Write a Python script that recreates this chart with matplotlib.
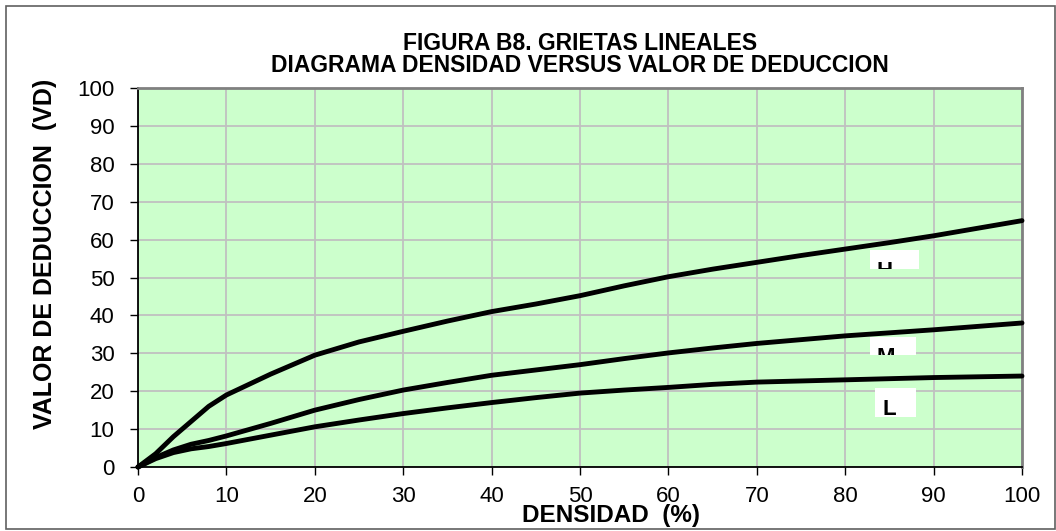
import matplotlib
matplotlib.use("Agg")
import matplotlib.pyplot as plt
from matplotlib.patches import Rectangle

plt.rcParams['font.family'] = ['Liberation Sans', 'DejaVu Sans']

density = [0, 2, 4, 6, 8, 10, 15, 20, 25, 30, 35, 40, 45, 50, 55, 60, 65, 70, 75, 80, 85, 90, 95, 100]
vd_high = [0, 3.5, 8, 12, 16, 19, 24.5, 29.5, 33, 35.8, 38.5, 41, 43, 45.2, 47.8, 50.2, 52.2, 54, 55.8, 57.5, 59.2, 61, 63, 65]
vd_medium = [0, 2.5, 4.5, 6, 7, 8.2, 11.5, 15, 17.8, 20.3, 22.3, 24.2, 25.6, 27, 28.6, 30.1, 31.4, 32.6, 33.6, 34.6, 35.4, 36.2, 37.1, 38]
vd_low = [0, 2.2, 3.8, 4.8, 5.4, 6.2, 8.4, 10.6, 12.4, 14.1, 15.6, 17, 18.3, 19.5, 20.3, 21, 21.8, 22.4, 22.7, 23, 23.3, 23.6, 23.8, 24]

labels = ['H', 'M', 'L']
# label boxes: (x0, y0, width, height) in data units, text baseline position
label_boxes = [(82.8, 52.2, 5.6, 5.1), (82.8, 29.6, 5.2, 4.8), (83.4, 13.2, 4.6, 7.6)]
label_text_pos = [(83.5, 50.1), (83.5, 27.4), (84.2, 13.8)]

W, H = 1056, 531
fig = plt.figure(figsize=(W / 100, H / 100), dpi=100)
fig.patches.append(Rectangle((6 / W, 1 - 529 / H), 1049 / W, 523 / H, transform=fig.transFigure,
                             fill=False, edgecolor='#606060', linewidth=1.2))
ax = fig.add_axes([138 / W, 1 - 467 / H, (1022 - 138) / W, (467 - 88) / H])
ax.set_facecolor('#CCFFCC')

for y in (vd_high, vd_medium, vd_low):
    ax.plot(density, y, color='black', linewidth=3.5, solid_capstyle='round',
            solid_joinstyle='round', zorder=3, clip_on=False)

for lab, (x0, y0, w, h), (tx, ty) in zip(labels, label_boxes, label_text_pos):
    r = Rectangle((x0, y0), w, h, facecolor='white', edgecolor='none', zorder=4)
    ax.add_patch(r)
    t = ax.text(tx, ty, lab, fontsize=16, fontweight='bold', ha='left', va='baseline',
                zorder=5, clip_on=True)
    t.set_clip_path(r)

ax.set_xlim(0, 100)
ax.set_ylim(0, 100)
ax.set_xticks(range(0, 101, 10))
ax.set_yticks(range(0, 101, 10))
ax.grid(True, color='#c0c0c0', linewidth=1.3)
ax.set_axisbelow(True)
ax.tick_params(axis='both', direction='out', length=6, width=1, labelsize=16, color='black')
ax.tick_params(axis='y', pad=11)
ax.tick_params(axis='x', pad=8)
for s in ('left', 'bottom'):
    ax.spines[s].set_color('black')
    ax.spines[s].set_linewidth(1.3)
for s in ('right', 'top'):
    ax.spines[s].set_color('#808080')
    ax.spines[s].set_linewidth(2)

fig.text(580 / W, 1 - 43 / H, 'FIGURA B8. GRIETAS LINEALES', ha='center', va='center',
         fontsize=16.5, fontweight='bold')
fig.text(580 / W, 1 - 66 / H, 'DIAGRAMA DENSIDAD VERSUS VALOR DE DEDUCCION', ha='center', va='center',
         fontsize=16.5, fontweight='bold')
fig.text(611 / W, 1 - 522 / H, 'DENSIDAD  (%)', ha='center', va='baseline', fontsize=17.5,
         fontweight='bold')
fig.text(45 / W, 1 - 254 / H, 'VALOR DE DEDUCCION  (VD)', ha='center', va='center', rotation=90,
         fontsize=18, fontweight='bold')

fig.savefig('out.png', dpi=100)
